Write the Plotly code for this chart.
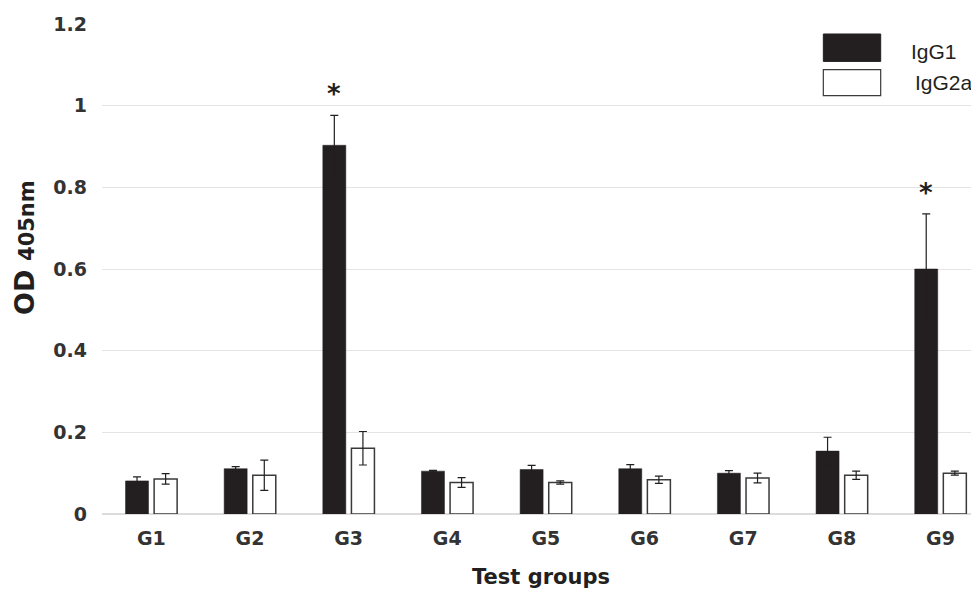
import plotly.graph_objects as go

groups = ["G1", "G2", "G3", "G4", "G5", "G6", "G7", "G8", "G9"]
igg1 = [0.081, 0.111, 0.903, 0.105, 0.109, 0.111, 0.100, 0.154, 0.600]
igg1_err = [0.010, 0.005, 0.073, 0.002, 0.010, 0.010, 0.006, 0.034, 0.135]
igg2a = [0.086, 0.095, 0.161, 0.077, 0.077, 0.084, 0.088, 0.095, 0.100]
igg2a_err = [0.013, 0.037, 0.041, 0.012, 0.004, 0.009, 0.012, 0.010, 0.005]
significant = ["G3", "G9"]
yticks = [0, 0.2, 0.4, 0.6, 0.8, 1, 1.2]

DARK = "#231f20"
TICKFONT = dict(family="DejaVu Sans", size=19, color="#333333", weight="bold")

fig = go.Figure()
fig.add_trace(go.Bar(
    name="IgG1", x=groups, y=igg1,
    marker=dict(color=DARK, line=dict(color=DARK, width=0.5)),
    error_y=dict(type="data", array=igg1_err, visible=True, color=DARK, thickness=1.2, width=4),
    showlegend=False,
))
fig.add_trace(go.Bar(
    name="IgG2a", x=groups, y=igg2a,
    marker=dict(color="white", line=dict(color="#3a3a3a", width=1.5)),
    error_y=dict(type="data", array=igg2a_err, visible=True, color=DARK, thickness=1.2, width=4),
    showlegend=False,
))

# significance asterisks above IgG1 bars
for g in significant:
    i = groups.index(g)
    fig.add_annotation(
        x=g, y=igg1[i] + igg1_err[i], xref="x", yref="y",
        text="<b>*</b>", showarrow=False, xshift=-14.5, yshift=21,
        yanchor="middle", font=dict(family="DejaVu Sans", size=26, color=DARK),
    )

# legend drawn as boxes + labels
fig.add_shape(type="rect", xref="paper", yref="paper", x0=0.8225, x1=0.8879, y0=0.9237, y1=0.9796,
              fillcolor=DARK, line=dict(color=DARK, width=1))
fig.add_shape(type="rect", xref="paper", yref="paper", x0=0.8225, x1=0.8879, y0=0.8537, y1=0.9067,
              fillcolor="white", line=dict(color="#3a3a3a", width=1.2))
fig.add_annotation(xref="paper", yref="paper", x=0.9202, y=0.9441, text="IgG1", showarrow=False,
                   xanchor="left", yanchor="middle", font=dict(family="Liberation Sans", size=21, color=DARK))
fig.add_annotation(xref="paper", yref="paper", x=0.9247, y=0.8816, text="IgG2a", showarrow=False,
                   xanchor="left", yanchor="middle", font=dict(family="Liberation Sans", size=21, color=DARK))

# axis titles
fig.add_annotation(xref="paper", yref="paper", x=0, y=0.543, xshift=-77, textangle=-90,
                   text="<b>OD</b> <span style='font-size:21px'><b>405nm</b></span>", showarrow=False,
                   xanchor="center", yanchor="middle",
                   font=dict(family="DejaVu Sans", size=27, color=DARK))
fig.add_annotation(xref="paper", yref="paper", x=0.5, y=-0.128, text="<b>Test groups</b>", showarrow=False,
                   xanchor="center", yanchor="middle",
                   font=dict(family="DejaVu Sans", size=21, color=DARK))

# page body has an 8px default margin: figure is sized/offset to land on the same pixels
fig.update_layout(
    width=971, height=584,
    margin=dict(l=94, r=0, t=16, b=78),
    paper_bgcolor="white", plot_bgcolor="white",
    barmode="group", bargap=0.42, bargroupgap=0.196,
    showlegend=False,
)
fig.update_xaxes(
    range=[-0.5, 8.39], tickfont=TICKFONT, showgrid=False, showline=False,
    ticks="", ticklabelstandoff=11, zeroline=False,
)
fig.update_yaxes(
    range=[0, 1.2], tickvals=yticks, ticktext=[f"{v:g}" for v in yticks],
    tickfont=TICKFONT, showgrid=True, gridcolor="#e4e4e4", gridwidth=1.2,
    zeroline=True, zerolinecolor="#dcdcdc", zerolinewidth=1.5,
    showline=False, ticks="", ticklabelstandoff=14,
)

fig.write_html("out.html")
